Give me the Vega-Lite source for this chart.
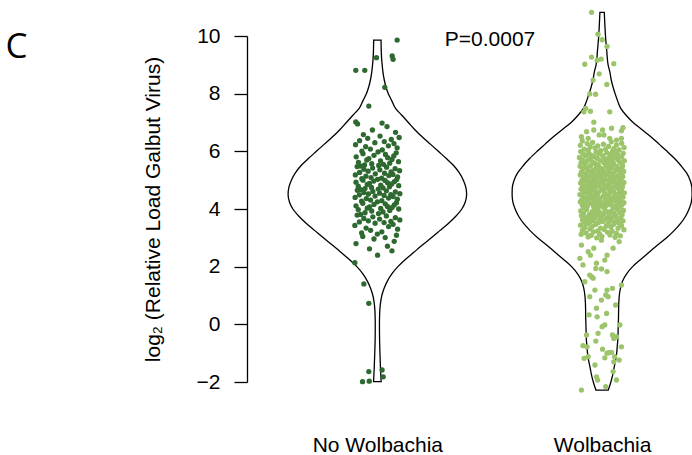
{
  "$schema": "https://vega.github.io/schema/vega-lite/v6.json",
  "autosize": {"type": "none"},
  "width": 445,
  "height": 346,
  "padding": {"left": 247, "top": 36, "right": 0, "bottom": 73},
  "background": "white",
  "config": {
    "view": {"stroke": null},
    "font": "Liberation Sans",
    "axis": {"labelFont": "Liberation Sans", "titleFont": "Liberation Sans", "labelColor": "black", "titleColor": "black", "domainColor": "black", "tickColor": "black", "grid": false, "titleFontWeight": "normal", "domainWidth": 1.3, "tickWidth": 1.3}
  },
  "datasets": {
    "vio": [
      {"g":"N","y":9.86,"lo":0.9835,"hi":1.0165},{"g":"N","y":9.5,"lo":0.9827,"hi":1.0173},{"g":"N","y":9.2,"lo":0.9809,"hi":1.0191},{"g":"N","y":9.0,"lo":0.9786,"hi":1.0214},{"g":"N","y":8.75,"lo":0.9751,"hi":1.0249},{"g":"N","y":8.5,"lo":0.9698,"hi":1.0302},{"g":"N","y":8.25,"lo":0.9622,"hi":1.0378},{"g":"N","y":8.0,"lo":0.9511,"hi":1.0489},{"g":"N","y":7.75,"lo":0.9355,"hi":1.0645},{"g":"N","y":7.5,"lo":0.9199,"hi":1.0801},{"g":"N","y":7.25,"lo":0.891,"hi":1.109},{"g":"N","y":7.0,"lo":0.8621,"hi":1.1379},{"g":"N","y":6.75,"lo":0.8332,"hi":1.1668},{"g":"N","y":6.5,"lo":0.7998,"hi":1.2002},{"g":"N","y":6.25,"lo":0.7642,"hi":1.2358},{"g":"N","y":6.0,"lo":0.7286,"hi":1.2714},{"g":"N","y":5.75,"lo":0.6931,"hi":1.3069},{"g":"N","y":5.5,"lo":0.6597,"hi":1.3403},{"g":"N","y":5.25,"lo":0.6352,"hi":1.3648},{"g":"N","y":5.0,"lo":0.6174,"hi":1.3826},{"g":"N","y":4.75,"lo":0.6063,"hi":1.3937},{"g":"N","y":4.5,"lo":0.6028,"hi":1.3972},{"g":"N","y":4.25,"lo":0.6085,"hi":1.3915},{"g":"N","y":4.0,"lo":0.6241,"hi":1.3759},{"g":"N","y":3.75,"lo":0.6508,"hi":1.3492},{"g":"N","y":3.5,"lo":0.6842,"hi":1.3158},{"g":"N","y":3.25,"lo":0.722,"hi":1.278},{"g":"N","y":3.0,"lo":0.7598,"hi":1.2402},{"g":"N","y":2.75,"lo":0.7998,"hi":1.2002},{"g":"N","y":2.5,"lo":0.8376,"hi":1.1624},{"g":"N","y":2.25,"lo":0.8754,"hi":1.1246},{"g":"N","y":2.0,"lo":0.9088,"hi":1.0912},{"g":"N","y":1.75,"lo":0.9355,"hi":1.0645},{"g":"N","y":1.5,"lo":0.9555,"hi":1.0445},{"g":"N","y":1.25,"lo":0.9698,"hi":1.0302},{"g":"N","y":1.0,"lo":0.98,"hi":1.02},{"g":"N","y":0.75,"lo":0.9858,"hi":1.0142},{"g":"N","y":0.5,"lo":0.9889,"hi":1.0111},{"g":"N","y":0.25,"lo":0.9902,"hi":1.0098},{"g":"N","y":0.0,"lo":0.9907,"hi":1.0093},{"g":"N","y":-0.5,"lo":0.9902,"hi":1.0098},{"g":"N","y":-1.0,"lo":0.9884,"hi":1.0116},{"g":"N","y":-1.5,"lo":0.9862,"hi":1.0138},{"g":"N","y":-1.99,"lo":0.9831,"hi":1.0169},
      {"g":"W","y":10.82,"lo":1.9902,"hi":2.0098},{"g":"W","y":10.5,"lo":1.9884,"hi":2.0116},{"g":"W","y":10.0,"lo":1.9849,"hi":2.0151},{"g":"W","y":9.5,"lo":1.9795,"hi":2.0205},{"g":"W","y":9.0,"lo":1.9733,"hi":2.0267},{"g":"W","y":8.75,"lo":1.9653,"hi":2.0347},{"g":"W","y":8.5,"lo":1.96,"hi":2.04},{"g":"W","y":8.25,"lo":1.952,"hi":2.048},{"g":"W","y":8.0,"lo":1.9422,"hi":2.0578},{"g":"W","y":7.75,"lo":1.931,"hi":2.069},{"g":"W","y":7.5,"lo":1.9177,"hi":2.0823},{"g":"W","y":7.25,"lo":1.8932,"hi":2.1068},{"g":"W","y":7.0,"lo":1.8621,"hi":2.1379},{"g":"W","y":6.75,"lo":1.8221,"hi":2.1779},{"g":"W","y":6.5,"lo":1.782,"hi":2.218},{"g":"W","y":6.25,"lo":1.7464,"hi":2.2536},{"g":"W","y":6.0,"lo":1.7109,"hi":2.2891},{"g":"W","y":5.75,"lo":1.6775,"hi":2.3225},{"g":"W","y":5.5,"lo":1.6486,"hi":2.3514},{"g":"W","y":5.25,"lo":1.6241,"hi":2.3759},{"g":"W","y":5.0,"lo":1.6085,"hi":2.3915},{"g":"W","y":4.75,"lo":1.6005,"hi":2.3995},{"g":"W","y":4.5,"lo":1.5996,"hi":2.4004},{"g":"W","y":4.25,"lo":1.6028,"hi":2.3972},{"g":"W","y":4.0,"lo":1.613,"hi":2.387},{"g":"W","y":3.75,"lo":1.6286,"hi":2.3714},{"g":"W","y":3.5,"lo":1.6508,"hi":2.3492},{"g":"W","y":3.25,"lo":1.6797,"hi":2.3203},{"g":"W","y":3.0,"lo":1.7131,"hi":2.2869},{"g":"W","y":2.75,"lo":1.7531,"hi":2.2469},{"g":"W","y":2.5,"lo":1.7909,"hi":2.2091},{"g":"W","y":2.25,"lo":1.8287,"hi":2.1713},{"g":"W","y":2.0,"lo":1.8643,"hi":2.1357},{"g":"W","y":1.75,"lo":1.891,"hi":2.109},{"g":"W","y":1.5,"lo":1.9088,"hi":2.0912},{"g":"W","y":1.25,"lo":1.9186,"hi":2.0814},{"g":"W","y":1.0,"lo":1.9235,"hi":2.0765},{"g":"W","y":0.75,"lo":1.9257,"hi":2.0743},{"g":"W","y":0.5,"lo":1.9266,"hi":2.0734},{"g":"W","y":0.25,"lo":1.927,"hi":2.073},{"g":"W","y":0.0,"lo":1.9279,"hi":2.0721},{"g":"W","y":-0.25,"lo":1.9288,"hi":2.0712},{"g":"W","y":-0.5,"lo":1.9297,"hi":2.0703},{"g":"W","y":-0.75,"lo":1.9324,"hi":2.0676},{"g":"W","y":-1.0,"lo":1.9351,"hi":2.0649},{"g":"W","y":-1.25,"lo":1.9399,"hi":2.0601},{"g":"W","y":-1.5,"lo":1.9466,"hi":2.0534},{"g":"W","y":-1.75,"lo":1.9528,"hi":2.0472},{"g":"W","y":-2.0,"lo":1.9609,"hi":2.0391},{"g":"W","y":-2.28,"lo":1.9724,"hi":2.0276}
    ],
    "pts": [
      {"g":"N","x":1.088,"y":9.86},{"g":"N","x":0.996,"y":9.25},{"g":"N","x":1.066,"y":9.31},{"g":"N","x":1.07,"y":9.19},{"g":"N","x":0.904,"y":8.81},{"g":"N","x":0.944,"y":8.81},{"g":"N","x":1.033,"y":8.22},{"g":"N","x":0.962,"y":7.57},{"g":"N","x":0.904,"y":7.02},{"g":"N","x":1.021,"y":6.98},{"g":"N","x":1.001,"y":2.4},{"g":"N","x":0.9,"y":2.14},{"g":"N","x":0.94,"y":1.4},{"g":"N","x":0.962,"y":0.73},{"g":"N","x":0.962,"y":-1.64},{"g":"N","x":1.021,"y":-1.58},{"g":"N","x":1.026,"y":-1.82},{"g":"N","x":0.934,"y":-1.99},{"g":"N","x":0.964,"y":-1.97},
      {"g":"N","x":0.912,"y":6.95},{"g":"N","x":1.043,"y":6.86},{"g":"N","x":0.978,"y":6.74},{"g":"N","x":1.081,"y":6.66},{"g":"N","x":0.938,"y":6.58},{"g":"N","x":1.012,"y":6.53},
      {"g":"N","x":1.097,"y":6.48},{"g":"N","x":0.957,"y":6.45},{"g":"N","x":1.062,"y":6.41},{"g":"N","x":0.921,"y":6.37},{"g":"N","x":1.031,"y":6.34},{"g":"N","x":0.989,"y":6.3},{"g":"N","x":1.074,"y":6.27},{"g":"N","x":0.903,"y":6.23},{"g":"N","x":1.049,"y":6.19},{"g":"N","x":0.948,"y":6.16},{"g":"N","x":1.088,"y":6.12},{"g":"N","x":0.969,"y":6.08},{"g":"N","x":1.022,"y":6.05},{"g":"N","x":0.931,"y":6.01},
      {"g":"N","x":1.003,"y":5.98},{"g":"N","x":1.084,"y":5.95},{"g":"N","x":0.936,"y":5.92},{"g":"N","x":1.036,"y":5.89},{"g":"N","x":0.985,"y":5.86},{"g":"N","x":1.073,"y":5.84},{"g":"N","x":0.906,"y":5.81},{"g":"N","x":1.046,"y":5.78},{"g":"N","x":0.962,"y":5.75},{"g":"N","x":1.065,"y":5.72},{"g":"N","x":0.953,"y":5.7},{"g":"N","x":1.014,"y":5.67},{"g":"N","x":1.094,"y":5.64},{"g":"N","x":0.916,"y":5.62},{"g":"N","x":1.055,"y":5.59},{"g":"N","x":0.975,"y":5.57},{"g":"N","x":1.027,"y":5.55},{"g":"N","x":0.943,"y":5.53},{"g":"N","x":1.006,"y":5.51},
      {"g":"N","x":0.925,"y":5.49},{"g":"N","x":0.91,"y":5.47},{"g":"N","x":1.041,"y":5.45},{"g":"N","x":0.979,"y":5.42},{"g":"N","x":1.079,"y":5.4},{"g":"N","x":0.94,"y":5.38},{"g":"N","x":1.011,"y":5.36},{"g":"N","x":1.099,"y":5.33},{"g":"N","x":0.959,"y":5.31},{"g":"N","x":1.061,"y":5.29},{"g":"N","x":0.921,"y":5.27},{"g":"N","x":1.032,"y":5.24},{"g":"N","x":0.991,"y":5.22},{"g":"N","x":1.069,"y":5.2},{"g":"N","x":0.902,"y":5.18},{"g":"N","x":1.051,"y":5.16},{"g":"N","x":0.949,"y":5.14},{"g":"N","x":1.09,"y":5.11},{"g":"N","x":0.972,"y":5.09},{"g":"N","x":1.019,"y":5.07},{"g":"N","x":0.931,"y":5.05},{"g":"N","x":1.001,"y":5.03},{"g":"N","x":1.086,"y":5.02},{"g":"N","x":0.936,"y":5.0},
      {"g":"N","x":1.034,"y":4.99},{"g":"N","x":0.984,"y":4.97},{"g":"N","x":1.076,"y":4.95},{"g":"N","x":0.905,"y":4.93},{"g":"N","x":1.045,"y":4.91},{"g":"N","x":0.965,"y":4.89},{"g":"N","x":1.064,"y":4.87},{"g":"N","x":0.955,"y":4.85},{"g":"N","x":1.015,"y":4.83},{"g":"N","x":1.095,"y":4.81},{"g":"N","x":0.915,"y":4.79},{"g":"N","x":1.054,"y":4.77},{"g":"N","x":0.974,"y":4.75},{"g":"N","x":1.025,"y":4.73},{"g":"N","x":0.945,"y":4.71},{"g":"N","x":1.004,"y":4.69},{"g":"N","x":0.926,"y":4.67},{"g":"N","x":0.911,"y":4.65},{"g":"N","x":1.04,"y":4.63},{"g":"N","x":0.98,"y":4.61},{"g":"N","x":1.08,"y":4.59},{"g":"N","x":0.94,"y":4.57},{"g":"N","x":1.01,"y":4.55},{"g":"N","x":1.1,"y":4.53},{"g":"N","x":0.96,"y":4.52},{"g":"N","x":1.06,"y":4.5},
      {"g":"N","x":0.92,"y":4.49},{"g":"N","x":1.03,"y":4.47},{"g":"N","x":0.99,"y":4.45},{"g":"N","x":1.07,"y":4.43},{"g":"N","x":0.901,"y":4.4},{"g":"N","x":1.05,"y":4.38},{"g":"N","x":0.951,"y":4.36},{"g":"N","x":1.089,"y":4.34},{"g":"N","x":0.97,"y":4.31},{"g":"N","x":1.02,"y":4.29},{"g":"N","x":0.93,"y":4.27},{"g":"N","x":1.0,"y":4.25},{"g":"N","x":1.085,"y":4.22},{"g":"N","x":0.935,"y":4.2},{"g":"N","x":1.035,"y":4.18},{"g":"N","x":0.985,"y":4.16},{"g":"N","x":1.075,"y":4.14},{"g":"N","x":0.905,"y":4.11},{"g":"N","x":1.045,"y":4.09},{"g":"N","x":0.965,"y":4.07},{"g":"N","x":1.065,"y":4.05},{"g":"N","x":0.955,"y":4.03},{"g":"N","x":1.015,"y":4.02},{"g":"N","x":1.095,"y":4.0},
      {"g":"N","x":0.915,"y":3.98},{"g":"N","x":1.055,"y":3.95},{"g":"N","x":0.975,"y":3.93},{"g":"N","x":1.025,"y":3.9},{"g":"N","x":0.945,"y":3.87},{"g":"N","x":1.005,"y":3.84},{"g":"N","x":0.925,"y":3.81},{"g":"N","x":0.91,"y":3.79},{"g":"N","x":1.04,"y":3.76},{"g":"N","x":0.98,"y":3.73},{"g":"N","x":1.08,"y":3.7},{"g":"N","x":0.94,"y":3.67},{"g":"N","x":1.01,"y":3.65},{"g":"N","x":1.1,"y":3.62},{"g":"N","x":0.96,"y":3.59},{"g":"N","x":1.06,"y":3.57},{"g":"N","x":0.92,"y":3.55},{"g":"N","x":1.03,"y":3.53},{"g":"N","x":0.99,"y":3.51},
      {"g":"N","x":1.07,"y":3.47},{"g":"N","x":0.9,"y":3.43},{"g":"N","x":1.05,"y":3.39},{"g":"N","x":0.95,"y":3.34},{"g":"N","x":1.09,"y":3.3},{"g":"N","x":0.97,"y":3.26},{"g":"N","x":1.02,"y":3.21},{"g":"N","x":0.93,"y":3.17},{"g":"N","x":1.0,"y":3.13},{"g":"N","x":1.085,"y":3.09},{"g":"N","x":0.935,"y":3.05},{"g":"N","x":1.035,"y":3.01},
      {"g":"N","x":0.985,"y":2.96},{"g":"N","x":1.075,"y":2.88},{"g":"N","x":0.905,"y":2.8},{"g":"N","x":1.045,"y":2.71},{"g":"N","x":0.965,"y":2.62},{"g":"N","x":1.065,"y":2.55},
      {"g":"W","x":1.953,"y":10.82},{"g":"W","x":1.982,"y":10.06},{"g":"W","x":2.0,"y":9.87},{"g":"W","x":2.022,"y":9.64},{"g":"W","x":1.953,"y":9.27},{"g":"W","x":1.978,"y":9.16},{"g":"W","x":1.996,"y":9.2},{"g":"W","x":1.923,"y":9.02},{"g":"W","x":2.052,"y":9.04},{"g":"W","x":1.987,"y":8.69},{"g":"W","x":1.96,"y":8.47},{"g":"W","x":2.021,"y":8.32},{"g":"W","x":1.945,"y":7.99},{"g":"W","x":1.971,"y":7.98},{"g":"W","x":1.927,"y":7.49},{"g":"W","x":1.919,"y":7.37},{"g":"W","x":1.948,"y":7.39},{"g":"W","x":2.034,"y":7.37},{"g":"W","x":1.963,"y":7.01},{"g":"W","x":1.931,"y":6.68},{"g":"W","x":1.963,"y":6.74},{"g":"W","x":2.002,"y":6.74},{"g":"W","x":2.042,"y":6.8},{"g":"W","x":2.093,"y":6.82},{"g":"W","x":2.086,"y":6.71},{"g":"W","x":1.908,"y":6.51},{"g":"W","x":1.938,"y":6.45},{"g":"W","x":1.987,"y":6.57},{"g":"W","x":2.008,"y":6.57},{"g":"W","x":2.034,"y":6.45},{"g":"W","x":2.064,"y":6.39},{"g":"W","x":2.086,"y":6.45},
      {"g":"W","x":1.908,"y":2.75},{"g":"W","x":1.963,"y":2.64},{"g":"W","x":2.049,"y":2.64},{"g":"W","x":2.076,"y":2.87},{"g":"W","x":1.997,"y":2.92},{"g":"W","x":1.938,"y":2.52},{"g":"W","x":1.948,"y":2.4},{"g":"W","x":1.901,"y":2.29},{"g":"W","x":2.012,"y":2.23},{"g":"W","x":2.022,"y":2.4},{"g":"W","x":1.915,"y":2.06},{"g":"W","x":1.975,"y":2.12},{"g":"W","x":1.972,"y":1.94},{"g":"W","x":1.997,"y":1.92},{"g":"W","x":2.022,"y":1.83},{"g":"W","x":1.945,"y":1.71},{"g":"W","x":1.953,"y":1.65},{"g":"W","x":1.96,"y":1.6},{"g":"W","x":1.923,"y":1.48},{"g":"W","x":2.086,"y":1.36},{"g":"W","x":2.046,"y":1.25},{"g":"W","x":2.022,"y":1.19},{"g":"W","x":1.968,"y":1.19},{"g":"W","x":1.945,"y":0.96},{"g":"W","x":2.016,"y":1.02},{"g":"W","x":2.027,"y":0.96},{"g":"W","x":2.06,"y":0.67},{"g":"W","x":1.975,"y":0.56},{"g":"W","x":1.942,"y":0.33},{"g":"W","x":1.997,"y":0.84},{"g":"W","x":2.02,"y":0.38},{"g":"W","x":1.978,"y":0.26},{"g":"W","x":2.079,"y":-0.02},{"g":"W","x":2.012,"y":-0.02},{"g":"W","x":2.0,"y":-0.08},{"g":"W","x":1.931,"y":-0.37},{"g":"W","x":1.982,"y":-0.31},{"g":"W","x":2.046,"y":-0.37},{"g":"W","x":2.064,"y":-0.43},{"g":"W","x":2.052,"y":-0.49},{"g":"W","x":1.915,"y":-0.74},{"g":"W","x":1.933,"y":-0.78},{"g":"W","x":2.086,"y":-0.78},{"g":"W","x":1.972,"y":-0.58},{"g":"W","x":2.002,"y":-0.86},{"g":"W","x":2.031,"y":-0.98},{"g":"W","x":2.042,"y":-0.97},{"g":"W","x":2.022,"y":-1.0},{"g":"W","x":2.012,"y":-1.16},{"g":"W","x":2.056,"y":-1.12},{"g":"W","x":1.92,"y":-1.18},{"g":"W","x":2.076,"y":-1.24},{"g":"W","x":1.938,"y":-1.12},{"g":"W","x":2.052,"y":-1.3},{"g":"W","x":2.049,"y":-1.64},{"g":"W","x":1.975,"y":-1.82},{"g":"W","x":1.98,"y":-1.93},{"g":"W","x":2.064,"y":-1.93},{"g":"W","x":1.968,"y":-1.41},{"g":"W","x":1.908,"y":-2.28},{"g":"W","x":2.016,"y":-2.16},
      {"g":"W","x":1.912,"y":6.36},{"g":"W","x":2.041,"y":6.33},{"g":"W","x":1.958,"y":6.31},{"g":"W","x":2.087,"y":6.28},{"g":"W","x":1.934,"y":6.27},{"g":"W","x":2.006,"y":6.25},{"g":"W","x":2.064,"y":6.22},{"g":"W","x":1.903,"y":6.21},{"g":"W","x":1.981,"y":6.19},{"g":"W","x":2.029,"y":6.17},{"g":"W","x":1.947,"y":6.15},{"g":"W","x":2.098,"y":6.13},{"g":"W","x":1.969,"y":6.12},{"g":"W","x":2.053,"y":6.1},{"g":"W","x":1.921,"y":6.08},{"g":"W","x":2.015,"y":6.07},{"g":"W","x":2.076,"y":6.05},{"g":"W","x":1.938,"y":6.04},{"g":"W","x":1.993,"y":6.02},{"g":"W","x":2.047,"y":6.01},
      {"g":"W","x":1.905,"y":5.99},{"g":"W","x":2.062,"y":5.98},{"g":"W","x":1.973,"y":5.97},{"g":"W","x":2.021,"y":5.95},{"g":"W","x":1.941,"y":5.94},{"g":"W","x":2.094,"y":5.93},{"g":"W","x":1.986,"y":5.92},{"g":"W","x":1.917,"y":5.9},{"g":"W","x":2.038,"y":5.89},{"g":"W","x":2.071,"y":5.88},{"g":"W","x":1.952,"y":5.86},{"g":"W","x":2.003,"y":5.85},{"g":"W","x":1.928,"y":5.84},{"g":"W","x":2.056,"y":5.83},{"g":"W","x":1.964,"y":5.81},{"g":"W","x":2.087,"y":5.8},{"g":"W","x":1.899,"y":5.79},{"g":"W","x":2.031,"y":5.78},{"g":"W","x":1.978,"y":5.76},{"g":"W","x":2.012,"y":5.75},{"g":"W","x":1.945,"y":5.74},{"g":"W","x":2.069,"y":5.72},{"g":"W","x":1.912,"y":5.71},{"g":"W","x":2.045,"y":5.7},{"g":"W","x":1.991,"y":5.69},{"g":"W","x":2.099,"y":5.67},{"g":"W","x":1.933,"y":5.66},{"g":"W","x":2.024,"y":5.65},{"g":"W","x":1.957,"y":5.63},{"g":"W","x":2.079,"y":5.62},{"g":"W","x":1.906,"y":5.61},{"g":"W","x":2.008,"y":5.6},{"g":"W","x":1.969,"y":5.58},{"g":"W","x":2.052,"y":5.57},{"g":"W","x":1.924,"y":5.56},{"g":"W","x":2.035,"y":5.54},{"g":"W","x":1.983,"y":5.53},{"g":"W","x":2.091,"y":5.51},
      {"g":"W","x":1.948,"y":5.5},{"g":"W","x":2.017,"y":5.49},{"g":"W","x":1.902,"y":5.48},{"g":"W","x":2.066,"y":5.47},{"g":"W","x":1.975,"y":5.46},{"g":"W","x":2.043,"y":5.44},{"g":"W","x":1.931,"y":5.43},{"g":"W","x":2.088,"y":5.42},{"g":"W","x":1.996,"y":5.41},{"g":"W","x":1.915,"y":5.4},{"g":"W","x":2.027,"y":5.39},{"g":"W","x":2.074,"y":5.37},{"g":"W","x":1.961,"y":5.36},{"g":"W","x":2.004,"y":5.35},{"g":"W","x":1.939,"y":5.34},{"g":"W","x":2.058,"y":5.33},{"g":"W","x":1.982,"y":5.32},{"g":"W","x":2.096,"y":5.3},{"g":"W","x":1.908,"y":5.29},{"g":"W","x":2.034,"y":5.28},{"g":"W","x":1.954,"y":5.27},{"g":"W","x":2.011,"y":5.26},{"g":"W","x":2.081,"y":5.25},{"g":"W","x":1.927,"y":5.23},{"g":"W","x":1.989,"y":5.22},{"g":"W","x":2.049,"y":5.21},{"g":"W","x":1.966,"y":5.2},{"g":"W","x":2.023,"y":5.19},{"g":"W","x":1.903,"y":5.18},{"g":"W","x":2.069,"y":5.16},{"g":"W","x":1.943,"y":5.15},{"g":"W","x":2.002,"y":5.14},{"g":"W","x":2.092,"y":5.13},{"g":"W","x":1.977,"y":5.12},{"g":"W","x":1.919,"y":5.11},{"g":"W","x":2.038,"y":5.09},{"g":"W","x":1.958,"y":5.08},{"g":"W","x":2.061,"y":5.07},{"g":"W","x":1.994,"y":5.06},{"g":"W","x":1.934,"y":5.05},{"g":"W","x":2.085,"y":5.04},{"g":"W","x":2.015,"y":5.03},{"g":"W","x":1.971,"y":5.02},{"g":"W","x":2.047,"y":5.01},{"g":"W","x":1.911,"y":5.0},
      {"g":"W","x":2.029,"y":4.99},{"g":"W","x":1.962,"y":4.98},{"g":"W","x":2.077,"y":4.97},{"g":"W","x":1.925,"y":4.96},{"g":"W","x":1.999,"y":4.95},{"g":"W","x":2.053,"y":4.94},{"g":"W","x":1.947,"y":4.93},{"g":"W","x":2.097,"y":4.92},{"g":"W","x":1.981,"y":4.91},{"g":"W","x":1.904,"y":4.9},{"g":"W","x":2.036,"y":4.89},{"g":"W","x":1.968,"y":4.88},{"g":"W","x":2.065,"y":4.87},{"g":"W","x":1.936,"y":4.86},{"g":"W","x":2.009,"y":4.85},{"g":"W","x":2.083,"y":4.84},{"g":"W","x":1.955,"y":4.83},{"g":"W","x":2.024,"y":4.82},{"g":"W","x":1.913,"y":4.81},{"g":"W","x":1.987,"y":4.8},{"g":"W","x":2.058,"y":4.79},{"g":"W","x":1.944,"y":4.78},{"g":"W","x":2.091,"y":4.77},{"g":"W","x":1.973,"y":4.76},{"g":"W","x":2.018,"y":4.75},{"g":"W","x":1.921,"y":4.74},{"g":"W","x":2.044,"y":4.73},{"g":"W","x":1.959,"y":4.72},{"g":"W","x":2.072,"y":4.71},{"g":"W","x":1.998,"y":4.7},{"g":"W","x":1.906,"y":4.69},{"g":"W","x":2.031,"y":4.68},{"g":"W","x":1.965,"y":4.67},{"g":"W","x":2.086,"y":4.66},{"g":"W","x":1.938,"y":4.65},{"g":"W","x":2.006,"y":4.64},{"g":"W","x":2.051,"y":4.63},{"g":"W","x":1.951,"y":4.62},{"g":"W","x":1.918,"y":4.61},{"g":"W","x":2.078,"y":4.6},{"g":"W","x":1.985,"y":4.59},{"g":"W","x":2.039,"y":4.58},{"g":"W","x":1.929,"y":4.57},{"g":"W","x":2.099,"y":4.56},{"g":"W","x":1.972,"y":4.55},{"g":"W","x":2.013,"y":4.54},{"g":"W","x":1.949,"y":4.53},{"g":"W","x":2.063,"y":4.51},
      {"g":"W","x":1.901,"y":4.5},{"g":"W","x":2.027,"y":4.49},{"g":"W","x":1.978,"y":4.48},{"g":"W","x":2.084,"y":4.47},{"g":"W","x":1.941,"y":4.46},{"g":"W","x":2.005,"y":4.45},{"g":"W","x":2.055,"y":4.44},{"g":"W","x":1.916,"y":4.43},{"g":"W","x":1.967,"y":4.42},{"g":"W","x":2.093,"y":4.41},{"g":"W","x":2.033,"y":4.4},{"g":"W","x":1.953,"y":4.39},{"g":"W","x":1.992,"y":4.38},{"g":"W","x":2.07,"y":4.37},{"g":"W","x":1.926,"y":4.36},{"g":"W","x":2.016,"y":4.35},{"g":"W","x":1.961,"y":4.34},{"g":"W","x":2.046,"y":4.33},{"g":"W","x":1.909,"y":4.32},{"g":"W","x":2.081,"y":4.31},{"g":"W","x":1.984,"y":4.3},{"g":"W","x":1.937,"y":4.29},{"g":"W","x":2.025,"y":4.28},{"g":"W","x":2.062,"y":4.27},{"g":"W","x":1.97,"y":4.26},{"g":"W","x":1.903,"y":4.25},{"g":"W","x":2.041,"y":4.24},{"g":"W","x":1.995,"y":4.23},{"g":"W","x":2.097,"y":4.22},{"g":"W","x":1.946,"y":4.21},{"g":"W","x":2.008,"y":4.2},{"g":"W","x":1.922,"y":4.19},{"g":"W","x":2.073,"y":4.18},{"g":"W","x":1.976,"y":4.17},{"g":"W","x":2.036,"y":4.16},{"g":"W","x":1.959,"y":4.15},{"g":"W","x":2.088,"y":4.14},{"g":"W","x":1.912,"y":4.13},{"g":"W","x":2.019,"y":4.12},{"g":"W","x":1.989,"y":4.11},{"g":"W","x":2.057,"y":4.1},{"g":"W","x":1.934,"y":4.09},{"g":"W","x":2.003,"y":4.08},{"g":"W","x":2.079,"y":4.07},{"g":"W","x":1.964,"y":4.06},{"g":"W","x":1.919,"y":4.05},{"g":"W","x":2.048,"y":4.04},{"g":"W","x":1.981,"y":4.02},
      {"g":"W","x":2.067,"y":3.99},{"g":"W","x":1.931,"y":3.98},{"g":"W","x":2.012,"y":3.97},{"g":"W","x":1.974,"y":3.96},{"g":"W","x":2.095,"y":3.95},{"g":"W","x":1.905,"y":3.93},{"g":"W","x":2.042,"y":3.92},{"g":"W","x":1.956,"y":3.91},{"g":"W","x":2.026,"y":3.9},{"g":"W","x":1.988,"y":3.89},{"g":"W","x":2.079,"y":3.87},{"g":"W","x":1.917,"y":3.86},{"g":"W","x":2.054,"y":3.85},{"g":"W","x":1.965,"y":3.84},{"g":"W","x":2.007,"y":3.83},{"g":"W","x":1.943,"y":3.81},{"g":"W","x":2.089,"y":3.8},{"g":"W","x":1.979,"y":3.79},{"g":"W","x":2.031,"y":3.78},{"g":"W","x":1.908,"y":3.77},{"g":"W","x":2.061,"y":3.75},{"g":"W","x":1.952,"y":3.74},{"g":"W","x":1.997,"y":3.73},{"g":"W","x":2.045,"y":3.72},{"g":"W","x":1.927,"y":3.71},{"g":"W","x":2.083,"y":3.69},{"g":"W","x":1.969,"y":3.68},{"g":"W","x":2.019,"y":3.67},{"g":"W","x":1.939,"y":3.66},{"g":"W","x":2.068,"y":3.65},{"g":"W","x":1.991,"y":3.63},{"g":"W","x":1.913,"y":3.62},{"g":"W","x":2.038,"y":3.61},{"g":"W","x":1.961,"y":3.6},{"g":"W","x":2.093,"y":3.59},{"g":"W","x":2.004,"y":3.57},{"g":"W","x":1.948,"y":3.56},{"g":"W","x":2.057,"y":3.55},{"g":"W","x":1.921,"y":3.54},{"g":"W","x":1.984,"y":3.53},{"g":"W","x":2.028,"y":3.52},{"g":"W","x":2.075,"y":3.51},
      {"g":"W","x":1.936,"y":3.49},{"g":"W","x":2.052,"y":3.47},{"g":"W","x":1.971,"y":3.46},{"g":"W","x":1.904,"y":3.44},{"g":"W","x":2.086,"y":3.43},{"g":"W","x":2.018,"y":3.41},{"g":"W","x":1.955,"y":3.39},{"g":"W","x":2.039,"y":3.38},{"g":"W","x":1.923,"y":3.36},{"g":"W","x":1.993,"y":3.34},{"g":"W","x":2.071,"y":3.33},{"g":"W","x":1.946,"y":3.31},{"g":"W","x":2.009,"y":3.29},{"g":"W","x":2.097,"y":3.28},{"g":"W","x":1.912,"y":3.26},{"g":"W","x":1.981,"y":3.24},{"g":"W","x":2.044,"y":3.23},{"g":"W","x":1.962,"y":3.21},{"g":"W","x":2.024,"y":3.19},{"g":"W","x":1.929,"y":3.17},{"g":"W","x":2.063,"y":3.16},{"g":"W","x":1.988,"y":3.14},{"g":"W","x":1.907,"y":3.12},{"g":"W","x":2.035,"y":3.1},{"g":"W","x":1.952,"y":3.09},{"g":"W","x":2.081,"y":3.07},{"g":"W","x":1.999,"y":3.05},{"g":"W","x":1.938,"y":3.03},{"g":"W","x":2.058,"y":3.02},{"g":"W","x":1.976,"y":3.0}
    ]
  },
  "layer": [
    {
      "data": {"name": "vio"},
      "mark": {"type": "area", "orient": "horizontal", "interpolate": "monotone", "fill": "white", "stroke": "black", "strokeWidth": 1.3},
      "encoding": {
        "y": {"field": "y", "type": "quantitative", "scale": {"domain": [-2, 10], "nice": false, "zero": false},
              "axis": {"title": "log₂ (Relative Load Galbut Virus)", "values": [-2, 0, 2, 4, 6, 8, 10], "tickSize": 13, "labelFontSize": 21, "titleFontSize": 21, "labelPadding": 14, "titlePadding": 33}},
        "x": {"field": "lo", "type": "quantitative", "scale": {"domain": [0.42, 2.4], "nice": false, "zero": false},
              "axis": {"title": null, "values": [1, 2], "labelExpr": "datum.value == 1 ? 'No Wolbachia' : 'Wolbachia'", "domain": false, "ticks": false, "tickSize": 0, "labelFontSize": 21, "labelPadding": 69, "labelBaseline": "alphabetic"}},
        "x2": {"field": "hi"},
        "detail": {"field": "g"}
      }
    },
    {
      "data": {"name": "pts"},
      "mark": {"type": "circle", "size": 28, "opacity": 1},
      "encoding": {
        "x": {"field": "x", "type": "quantitative"},
        "y": {"field": "y", "type": "quantitative"},
        "color": {"field": "g", "type": "nominal", "scale": {"domain": ["N", "W"], "range": ["#2e6930", "#9cc46a"]}, "legend": null}
      }
    },
    {
      "data": {"values": [{}]},
      "mark": {"type": "text", "align": "left", "baseline": "alphabetic", "fontSize": 21, "font": "Liberation Sans", "color": "black"},
      "encoding": {"x": {"datum": 1.3}, "y": {"datum": 9.67}, "text": {"value": "P=0.0007"}}
    },
    {
      "data": {"values": [{}]},
      "mark": {"type": "text", "align": "left", "baseline": "alphabetic", "fontSize": 35, "font": "Open Sans", "color": "black"},
      "encoding": {"x": {"datum": -0.655}, "y": {"datum": 9.22}, "text": {"value": "C"}}
    }
  ]
}
